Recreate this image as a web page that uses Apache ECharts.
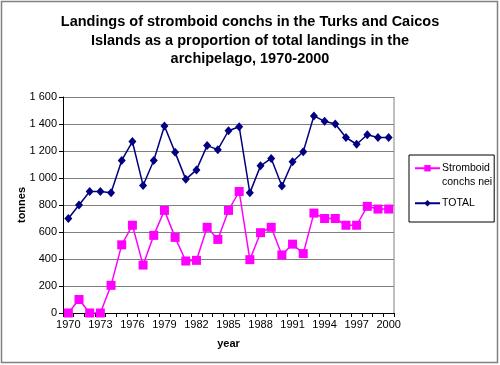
<!DOCTYPE html>
<html>
<head>
<meta charset="utf-8">
<script src="https://cdn.jsdelivr.net/npm/echarts@6/dist/echarts.min.js"></script>
<style>
html,body{margin:0;padding:0;background:#fff;}
#c{width:500px;height:365px;}
</style>
</head>
<body>
<div id="c"></div>
<script>
const years = [];
for (let y = 1970; y <= 2000; y++) years.push(String(y));
const stromboid = [0,100,0,0,205,505,650,355,575,760,560,385,390,635,545,760,900,395,595,635,430,510,440,740,700,700,650,650,790,770,770];
const total = [700,800,900,900,890,1130,1270,945,1130,1385,1190,990,1060,1240,1210,1350,1380,890,1090,1145,940,1120,1195,1460,1420,1400,1300,1250,1320,1300,1300];
const yTicks = [0,200,400,600,800,1000,1200,1400,1600];
const seriesNames = ['Stromboid conchs nei','TOTAL'];

const chart = echarts.init(document.getElementById('c'), null, {renderer:'canvas'});
const font = 'Liberation Sans, Arial, sans-serif';
chart.setOption({
  animation:false,
  backgroundColor:'#fff',
  title:{
    text:'Landings of stromboid conchs in the Turks and Caicos\nIslands as a proportion of total landings in the\narchipelago, 1970-2000',
    left:'center', top:8,
    textStyle:{fontFamily:font, fontSize:14.5, fontWeight:'bold', color:'#000', lineHeight:18.5}
  },
  graphic:[{type:'rect', shape:{x:1.5,y:1.5,width:496,height:361}, style:{fill:null, stroke:'#808080', lineWidth:1.5}, silent:true},
           {type:'line', shape:{x1:394,y1:97,x2:394,y2:313}, style:{stroke:'#808080', lineWidth:1}, silent:true}],
  grid:{left:63, top:97, right:106, bottom:52},
  legend:{
    orient:'vertical', left:409, top:155,
    padding:[-7,2,12,5], itemGap:8,
    borderColor:'#000', borderWidth:1,
    itemWidth:25, itemHeight:8,
    textStyle:{fontFamily:font, fontSize:10.5, color:'#000', padding:[0,0,0,-3], lineHeight:13.5},
    formatter:n=> n==='TOTAL' ? 'TOTAL' : ' \nStromboid\nconchs nei',
    data:seriesNames
  },
  xAxis:{
    type:'category', data:years, boundaryGap:true,
    name:'year', nameLocation:'middle', nameGap:25,
    nameTextStyle:{fontFamily:font, fontSize:11, fontWeight:'bold', color:'#000'},
    axisLine:{lineStyle:{color:'#000', width:1}},
    axisTick:{show:true, alignWithLabel:false, interval:0, length:4, lineStyle:{color:'#000'}},
    axisLabel:{interval:2, fontFamily:font, fontSize:11, color:'#000', margin:6}
  },
  yAxis:{
    type:'value', min:0, max:1600, interval:200,
    name:'tonnes', nameLocation:'middle', nameGap:36, nameMoveOverlap:false,
    nameTextStyle:{fontFamily:font, fontSize:11, fontWeight:'bold', color:'#000'},
    axisLine:{show:true, lineStyle:{color:'#000', width:1}},
    axisTick:{show:true, length:4, lineStyle:{color:'#000'}},
    axisLabel:{fontFamily:font, fontSize:11, color:'#000', margin:6,
      formatter:v=>v>=1000 ? String(v).replace(/(\d)(\d{3})$/,'$1 $2') : String(v)},
    splitLine:{show:true, lineStyle:{color:'#808080', width:1}}
  },
  series:[
    {name:seriesNames[0], type:'line', data:stromboid, symbol:'rect', symbolSize:9, showAllSymbol:true,
     itemStyle:{color:'#FF00FF'}, lineStyle:{color:'#FF00FF', width:1.5}},
    {name:seriesNames[1], type:'line', data:total, symbol:'diamond', symbolSize:[8,9], showAllSymbol:true,
     itemStyle:{color:'#000080'}, lineStyle:{color:'#000080', width:1.5}}
  ]
});
</script>
</body>
</html>
